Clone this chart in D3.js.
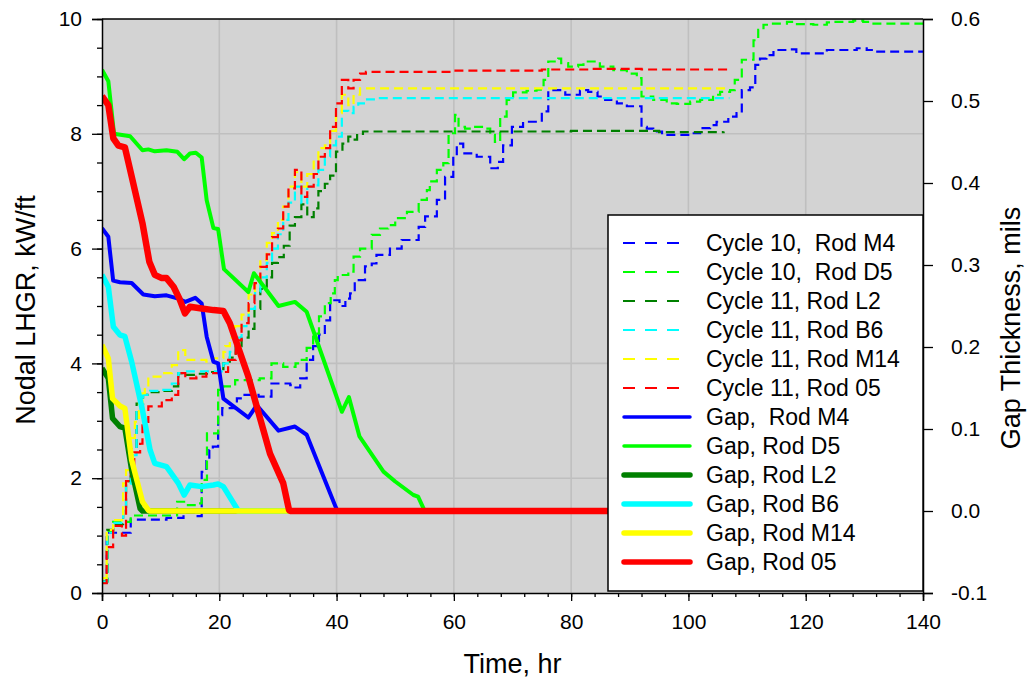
<!DOCTYPE html>
<html><head><meta charset="utf-8">
<script src="https://cdn.jsdelivr.net/npm/d3@7"></script>
<style>
body{margin:0;background:#fff;}
text{font-family:"Liberation Sans",Arial,sans-serif;fill:#000;}
</style></head><body>
<svg id="c" width="1032" height="688"></svg>
<script>
// ---------- data (time hr, value) ----------
// LHGR, kW/ft (left axis), step series
const c10M4 = [[0,0.18],[0.8,1.05],[4.9,1.28],[11,1.31],[13.9,1.4],[16.1,1.34],[17.0,2.11],[17.8,2.3],[18.3,2.49],[18.9,2.55],[19.8,3.1],[20.5,3.22],[23.0,3.39],[24.1,3.45],[26.7,3.42],[28.9,3.65],[32.1,3.62],[33.0,3.58],[33.8,3.74],[34.9,4.06],[36.0,4.3],[37.0,4.5],[38.0,4.75],[38.9,5.1],[40.5,5.0],[41.5,5.13],[42.3,5.22],[43.1,5.45],[44.85,5.69],[46.0,5.74],[46.8,5.89],[49.1,6.0],[51.1,6.15],[54.0,6.38],[55.1,6.56],[57.1,6.85],[58.5,7.25],[59.9,7.6],[60.5,7.83],[61.6,7.66],[63.9,7.6],[66.2,7.4],[67.5,7.51],[68.4,7.8],[69.9,8.12],[71.8,8.21],[75.0,8.39],[76.1,8.76],[79.0,8.68],[81.5,8.76],[82.9,8.73],[84.5,8.65],[85.8,8.59],[87.8,8.53],[89.5,8.48],[92.0,8.12],[92.9,8.09],[94.0,8.04],[95.5,7.98],[100.3,8.01],[102.0,8.1],[103.7,8.15],[104.8,8.21],[106.8,8.3],[108.2,8.36],[109.1,8.76],[110.5,8.81],[111.4,9.2],[112.2,9.31],[113.3,9.37],[114.5,9.46],[117,9.47],[118.4,9.4],[123.6,9.46],[128.7,9.49],[130.4,9.46],[131.5,9.43],[140,9.43]];
const c10D5 = [[0,0.2],[0.9,1.08],[1.9,1.24],[4.9,1.35],[12.8,1.59],[14.2,1.53],[16.1,1.56],[17.0,1.97],[17.9,2.78],[19.8,3.54],[20.7,3.6],[22.7,3.71],[26.9,3.74],[28.9,4.0],[30.9,3.94],[33.0,4.0],[33.8,4.06],[34.9,4.27],[36.0,4.52],[37.0,4.82],[38.0,5.05],[39.0,5.22],[39.7,5.45],[40.2,5.54],[42.0,5.6],[42.9,5.86],[44.0,6.0],[46.0,6.24],[47.4,6.35],[48.8,6.41],[50.0,6.53],[52.0,6.64],[54.0,6.85],[55.4,7.02],[55.9,7.17],[57.1,7.37],[58.2,7.49],[59.1,8.01],[60.2,8.33],[60.8,8.12],[61.9,8.09],[63.0,8.12],[65.0,8.09],[66.2,7.98],[67.0,7.86],[67.9,8.3],[69.0,8.59],[70.1,8.72],[72.4,8.75],[74.1,8.77],[75.3,8.94],[76.1,9.26],[77.8,9.31],[78.3,9.23],[79.5,9.17],[81.2,9.2],[82.1,9.26],[84.9,9.17],[87.2,9.11],[89.5,9.05],[91.2,8.97],[92.0,8.65],[94.0,8.59],[96.3,8.53],[98.0,8.52],[100.3,8.56],[102.0,8.59],[104.2,8.68],[105.4,8.73],[107.1,8.76],[107.9,8.94],[109.1,9.29],[111.1,9.63],[111.9,9.81],[112.8,9.9],[113.9,9.92],[116.8,9.95],[117.9,9.91],[121.3,9.9],[123.6,9.94],[124.7,9.95],[128.1,9.97],[129.8,9.95],[131.0,9.92],[140,9.92]];
const c11L2 = [[0,0.2],[0.9,1.1],[1.9,1.2],[3.6,1.5],[4.1,1.95],[4.9,2.5],[5.9,3.3],[7.0,3.45],[8.2,3.5],[10.2,3.52],[11.9,3.6],[13.0,3.83],[14.2,3.8],[16.1,3.82],[17.9,3.85],[19.8,3.9],[20.7,4.0],[21.8,4.1],[22.8,4.3],[23.8,4.45],[25.0,4.6],[26.0,4.95],[27.0,5.3],[28.1,5.5],[29.0,5.75],[30.0,5.85],[31.0,6.05],[32.0,6.4],[32.9,6.55],[34.0,6.77],[35.0,6.55],[36.1,6.7],[36.9,7.0],[38.0,7.13],[38.9,7.27],[39.9,7.69],[41.0,7.83],[42.0,7.95],[42.9,7.9],[43.5,8.0],[44.5,8.04],[60,8.04],[80,8.05],[95,8.03],[106,8.04]];
const c11B6 = [[0,0.2],[0.9,1.05],[1.9,1.22],[3.6,1.5],[4.1,1.9],[4.9,2.4],[5.9,3.2],[7.0,3.45],[8.2,3.52],[10.2,3.54],[11.9,3.65],[13.0,3.83],[14.2,3.86],[20.7,4.0],[21.8,4.2],[22.8,4.45],[23.8,4.65],[25.0,4.95],[26.1,5.25],[27.0,5.5],[28.1,5.75],[29.0,6.0],[30.0,6.25],[30.9,6.5],[31.8,6.8],[32.9,7.08],[34.0,6.79],[35.0,7.08],[36.1,7.1],[36.9,7.37],[38.0,7.6],[38.9,7.8],[39.9,7.95],[40.9,8.4],[42.0,8.36],[42.9,8.47],[43.7,8.53],[45.0,8.6],[47,8.62],[107,8.62]];
const c11M14 = [[0,0.26],[0.8,1.1],[1.9,1.27],[3.6,1.91],[4.1,2.14],[4.9,2.7],[5.6,2.98],[6.3,3.3],[6.9,3.48],[7.3,3.59],[7.9,3.77],[10.2,3.83],[11.9,3.97],[13.0,4.23],[14.2,4.06],[17.8,4.03],[19.0,4.09],[20.7,4.2],[21.0,4.3],[21.8,4.45],[22.7,4.65],[23.8,4.85],[25.0,5.2],[26.1,5.5],[27.0,5.8],[28.1,6.1],[29.0,6.27],[30.0,6.5],[30.9,6.73],[31.8,7.08],[32.9,7.33],[34.0,7.08],[35.0,7.3],[36.1,7.55],[36.9,7.75],[38.0,7.8],[38.9,8.05],[39.9,8.36],[40.9,8.68],[42.0,8.5],[42.9,8.68],[44.0,8.79],[107,8.8]];
const c1105 = [[0,0.17],[0.8,0.8],[1.9,1.17],[3.4,1.0],[4.1,1.95],[4.9,2.1],[5.5,2.45],[6.5,2.6],[6.9,2.98],[7.9,3.25],[10.2,3.36],[11.9,3.45],[13.0,3.83],[14.2,3.74],[16.1,3.77],[17.8,3.83],[20.7,3.85],[21.5,4.06],[22.8,4.4],[23.8,4.7],[25.0,5.05],[26.0,5.4],[27.0,5.68],[28.1,5.9],[29.0,6.2],[30.0,6.35],[30.9,6.73],[31.8,7.05],[32.9,7.37],[34.0,6.9],[35.0,7.08],[36.1,7.3],[36.9,7.6],[38.0,7.75],[38.9,8.12],[39.9,8.53],[40.9,8.94],[42.0,8.79],[42.9,8.94],[44.0,9.05],[45,9.08],[60,9.1],[75,9.12],[83,9.13],[92,9.12],[107,9.12]];
// Gap thickness, mils (right axis)
const gapM4 = [[0,0.345],[1.08,0.3345],[1.9,0.281],[3.07,0.279],[5.06,0.278],[7.05,0.264],[9.0,0.262],[11.0,0.263],[13.0,0.259],[14.2,0.255],[15.9,0.26],[17.0,0.253],[17.85,0.2126],[19.0,0.182],[19.8,0.180],[20.7,0.137],[24.95,0.114],[26.4,0.129],[30.1,0.098],[32.9,0.103],[34.9,0.093],[37.7,0.043],[39.9,0.004],[40.2,0],[140,0]];
const gapD5 = [[0,0.538],[1.08,0.524],[2.05,0.46],[4.8,0.457],[6.9,0.44],[7.9,0.441],[9.0,0.4386],[11.0,0.44],[12.85,0.438],[14.0,0.429],[15.0,0.436],[16.0,0.437],[17.0,0.431],[17.85,0.379],[19.0,0.345],[19.8,0.344],[20.8,0.295],[24.95,0.267],[25.9,0.29],[30.1,0.25],[32.9,0.255],[34.9,0.243],[40.9,0.121],[42.1,0.139],[43.9,0.091],[48.0,0.048],[50.0,0.036],[53.1,0.0195],[53.9,0.0175],[54.9,0.002],[55.2,0],[140,0]];
const gapL2 = [[0,0.174],[1.08,0.162],[1.8,0.113],[3.07,0.103],[3.9,0.101],[5.06,0.05],[6.5,0.003],[6.9,0],[140,0]];
const gapB6 = [[0,0.288],[1.08,0.2735],[1.93,0.2248],[3.07,0.2146],[3.9,0.213],[5.06,0.182],[6.9,0.123],[8.2,0.0744],[9.0,0.058],[11.0,0.054],[13.0,0.034],[14.0,0.0195],[15.0,0.0317],[17.0,0.0297],[19.0,0.0317],[19.8,0.033],[20.7,0.0297],[23.0,0.003],[23.2,0],[140,0]];
const gapM14 = [[0,0.2024],[1.08,0.186],[1.8,0.137],[3.07,0.128],[3.9,0.125],[5.06,0.062],[6.9,0.0113],[7.9,0.001],[8.1,0],[140,0]];
const gap05 = [[0,0.506],[1.08,0.495],[1.93,0.4545],[2.8,0.4455],[3.9,0.4435],[5.06,0.408],[6.9,0.351],[8.07,0.304],[9.0,0.288],[10.2,0.284],[11.0,0.284],[12.2,0.2735],[13.2,0.259],[14.15,0.241],[15.0,0.249],[17.0,0.247],[19.0,0.245],[20.7,0.244],[21.8,0.229],[24.95,0.164],[28.65,0.070],[30.9,0.034],[31.9,0.001],[32.2,0],[140,0]];

const xTicks = [0,20,40,60,80,100,120,140];
const yTicks = [0,2,4,6,8,10];
const y2Ticks = [-0.1,0.0,0.1,0.2,0.3,0.4,0.5,0.6];
const legendLabels = ["Cycle 10,  Rod M4","Cycle 10,  Rod D5","Cycle 11, Rod L2","Cycle 11, Rod B6","Cycle 11, Rod M14","Cycle 11, Rod 05","Gap,  Rod M4","Gap, Rod D5","Gap, Rod L2","Gap, Rod B6","Gap, Rod M14","Gap, Rod 05"];

// ---------- chart ----------
const svg = d3.select("#c");
const L=102, R=923, T=19, B=593;
const x = d3.scaleLinear().domain([0,140]).range([L,R]);
const y = d3.scaleLinear().domain([0,10]).range([B,T]);
const y2 = d3.scaleLinear().domain([-0.1,0.6]).range([B,T]);

svg.append("rect").attr("x",L).attr("y",T).attr("width",R-L).attr("height",B-T).attr("fill","#d3d3d3");
svg.append("defs").append("clipPath").attr("id","clip").append("rect").attr("x",L).attr("y",T).attr("width",R-L).attr("height",B-T);

const grid = svg.append("g").attr("stroke","#bfbfbf").attr("stroke-width",1.6);
xTicks.filter(d=>d>0&&d<140).forEach(d=>grid.append("line").attr("x1",x(d)).attr("x2",x(d)).attr("y1",T).attr("y2",B));
yTicks.filter(d=>d>0&&d<10).forEach(d=>grid.append("line").attr("y1",y(d)).attr("y2",y(d)).attr("x1",L).attr("x2",R));

const plot = svg.append("g").attr("clip-path","url(#clip)");
const stepLine = d3.line().x(d=>x(d[0])).y(d=>y(d[1])).curve(d3.curveStepAfter);
const gapLine = d3.line().x(d=>x(d[0])).y(d=>y2(d[1]));

const dashed = [
  {data:c10M4,color:"#0000ff"},
  {data:c10D5,color:"#00ff00"},
  {data:c11L2,color:"#008000"},
  {data:c11B6,color:"#00ffff"},
  {data:c11M14,color:"#ffff00"},
  {data:c1105,color:"#ff0000"}
];
const solid = [
  {data:gapM4,color:"#0000ff",w:4,lw:3.5},
  {data:gapD5,color:"#00ff00",w:4,lw:3.5},
  {data:gapL2,color:"#008000",w:5.5,lw:5.5},
  {data:gapB6,color:"#00ffff",w:5.5,lw:5.5},
  {data:gapM14,color:"#ffff00",w:5.5,lw:5.5},
  {data:gap05,color:"#ff0000",w:6.5,lw:5.5}
];
dashed.forEach(s=>plot.append("path").attr("d",stepLine(s.data)).attr("fill","none")
  .attr("stroke",s.color).attr("stroke-width",2.2).attr("stroke-dasharray","9,5"));
solid.forEach(s=>plot.append("path").attr("d",gapLine(s.data)).attr("fill","none")
  .attr("stroke",s.color).attr("stroke-width",s.w).attr("stroke-linejoin","round"));

// axes
const fs = "21px";
svg.append("g").attr("transform",`translate(0,${B})`)
  .call(d3.axisBottom(x).tickValues(xTicks).tickSize(8).tickPadding(13).tickFormat(d3.format("d")));
svg.append("g").attr("transform",`translate(0,${B})`)
  .call(d3.axisBottom(x).tickValues(d3.range(0,141,4)).tickSize(4).tickFormat("")).select(".domain").remove();
svg.append("g").attr("transform",`translate(${L},0)`)
  .call(d3.axisLeft(y).tickValues(yTicks).tickSize(10).tickPadding(10).tickFormat(d3.format("d")));
svg.append("g").attr("transform",`translate(${L},0)`)
  .call(d3.axisLeft(y).tickValues(d3.range(0,10.01,0.5)).tickSize(5).tickFormat("")).select(".domain").remove();
const axR = svg.append("g").attr("transform",`translate(${R},0)`)
  .call(d3.axisRight(y2).tickValues(y2Ticks).tickSize(10).tickPadding(18).tickFormat(d3.format(".1f")));
svg.append("line").attr("x1",L).attr("x2",R).attr("y1",T).attr("y2",T).attr("stroke","#000").attr("stroke-width",1.5);
svg.selectAll(".domain").attr("stroke","#000").attr("stroke-width",1.5);
svg.selectAll(".tick line").attr("stroke","#000").attr("stroke-width",1.3);
svg.selectAll(".tick text").style("font-size",fs).style("font-family","'Liberation Sans',Arial,sans-serif");
axR.selectAll(".tick text").text(d=>d3.format(".1f")(d).replace("−","-"));

// titles
svg.append("text").attr("x",(L+R)/2).attr("y",673).attr("text-anchor","middle").style("font-size","27px").text("Time, hr");
svg.append("text").attr("transform",`translate(35,${(T+B)/2+4}) rotate(-90)`).attr("text-anchor","middle").style("font-size","27px").text("Nodal LHGR, kW/ft");
svg.append("text").attr("transform",`translate(1020,${(T+B)/2+22}) rotate(-90)`).attr("text-anchor","middle").style("font-size","27px").text("Gap Thickness, mils");

// legend
const lg = svg.append("g");
lg.append("rect").attr("x",608).attr("y",215).attr("width",R-608).attr("height",591-215).attr("fill","#fff").attr("stroke","#000").attr("stroke-width",1.5);
const rowY = i=>243+i*29;
dashed.forEach((s,i)=>{
  lg.append("line").attr("x1",623).attr("x2",684).attr("y1",rowY(i)).attr("y2",rowY(i)).attr("stroke",s.color).attr("stroke-width",2).attr("stroke-dasharray","12,10");
});
solid.forEach((s,i)=>{
  lg.append("line").attr("x1",624).attr("x2",690).attr("y1",rowY(i+6)).attr("y2",rowY(i+6)).attr("stroke",s.color).attr("stroke-width",s.lw).attr("stroke-linecap","round");
});
legendLabels.forEach((t,i)=>{
  lg.append("text").attr("x",706).attr("y",rowY(i)).attr("dy","0.35em").style("font-size","23px").style("white-space","pre").text(t);
});
</script>
</body></html>
